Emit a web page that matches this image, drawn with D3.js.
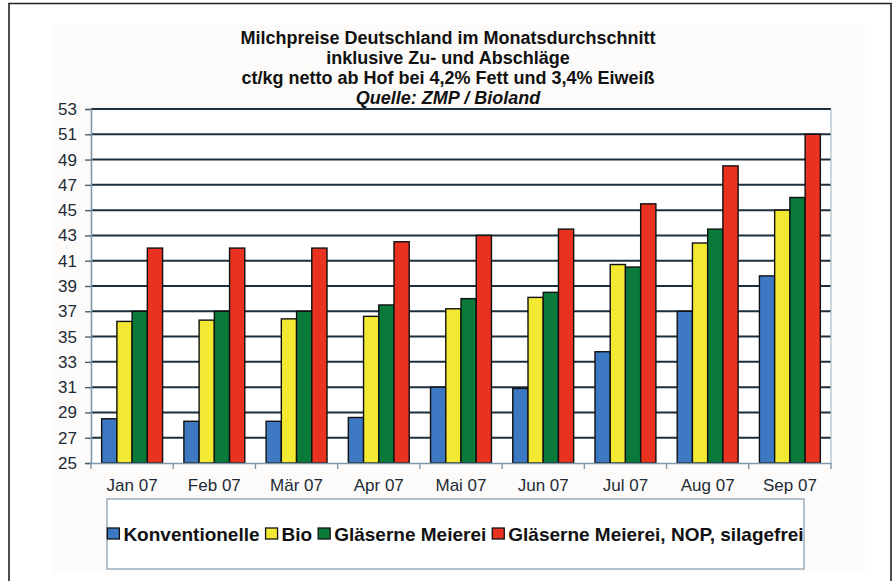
<!DOCTYPE html>
<html>
<head>
<meta charset="utf-8">
<script src="https://cdn.jsdelivr.net/npm/d3@7"></script>
<style>
  body { margin: 0; background: #fff; }
  svg { display: block; font-family: "Liberation Sans", Arial, sans-serif; }
</style>
</head>
<body>
<svg id="chart"></svg>
<script>
const months = ["Jan 07", "Feb 07", "Mär 07", "Apr 07", "Mai 07", "Jun 07", "Jul 07", "Aug 07", "Sep 07"];
const seriesNames = ["Konventionelle", "Bio", "Gläserne Meierei", "Gläserne Meierei, NOP, silagefrei"];
const konventionelle = [28.5, 28.3, 28.3, 28.6, 31.0, 30.9, 33.8, 37.0, 39.8];
const bio = [36.2, 36.3, 36.4, 36.6, 37.2, 38.1, 40.7, 42.4, 45.0];
const glaeserne = [37.0, 37.0, 37.0, 37.5, 38.0, 38.5, 40.5, 43.5, 46.0];
const glaeserneNop = [42.0, 42.0, 42.0, 42.5, 43.0, 43.5, 45.5, 48.5, 51.0];
const yTicks = [25, 27, 29, 31, 33, 35, 37, 39, 41, 43, 45, 47, 49, 51, 53];
const titleLines = [
    "Milchpreise Deutschland im Monatsdurchschnitt",
    "inklusive Zu- und Abschläge",
    "ct/kg netto ab Hof bei 4,2% Fett und 3,4% Eiweiß",
    "Quelle: ZMP / Bioland"
];
const colors = ["#3d78c3", "#f3e832", "#0a7a3b", "#e9321f"];

const seriesValues = [konventionelle, bio, glaeserne, glaeserneNop];

const W = 895, H = 581;
const plot = { left: 91, right: 831, top: 109, bottom: 463 };

const svg = d3.select("#chart").attr("width", W).attr("height", H);

// frame and chart area
svg.append("rect").attr("x", 53).attr("y", 25).attr("width", 812).attr("height", 548).attr("fill", "#fdfbfa");
svg.append("path")
    .attr("d", `M9,${H} V3.5 H891 V${H}`)
    .attr("fill", "none").attr("stroke", "#222").attr("stroke-width", 1.6);

svg.append("rect")
    .attr("x", plot.left).attr("y", plot.top)
    .attr("width", plot.right - plot.left).attr("height", plot.bottom - plot.top)
    .attr("fill", "#fff");

const x = d3.scaleBand()
    .domain(months)
    .range([plot.left, plot.right])
    .paddingInner(0).paddingOuter(0);

const xInner = d3.scaleBand()
    .domain(seriesNames)
    .range([0, x.bandwidth()])
    .paddingInner(0).paddingOuter(0.7);

const y = d3.scaleLinear()
    .domain([25, 53])
    .range([plot.bottom, plot.top]);

// gridlines
svg.append("g")
    .selectAll("line")
    .data(yTicks.filter(d => d > 25))
    .join("line")
    .attr("x1", plot.left).attr("x2", plot.right)
    .attr("y1", d => y(d)).attr("y2", d => y(d))
    .attr("stroke", "#1d2f3b").attr("stroke-width", 2);

// bars
const groups = svg.append("g")
    .selectAll("g")
    .data(months)
    .join("g")
    .attr("transform", d => `translate(${x(d)},0)`);

groups.selectAll("rect")
    .data((m, i) => seriesNames.map((s, j) => ({ s, j, v: seriesValues[j][i] })))
    .join("rect")
    .attr("x", d => xInner(d.s))
    .attr("y", d => y(d.v))
    .attr("width", xInner.bandwidth())
    .attr("height", d => y(25) - y(d.v))
    .attr("fill", d => colors[d.j])
    .attr("stroke", "#111")
    .attr("stroke-width", 1.4);

// plot border (right side light)
svg.append("line")
    .attr("x1", plot.right).attr("x2", plot.right)
    .attr("y1", plot.top).attr("y2", plot.bottom)
    .attr("stroke", "#a9bcc8").attr("stroke-width", 1.2);

// y axis
const yAxis = g => g
    .attr("transform", `translate(${plot.left},0)`)
    .call(d3.axisLeft(y).tickValues(yTicks).tickSize(6).tickPadding(8))
    .call(g => g.select(".domain").attr("stroke", "#7f98aa").attr("stroke-width", 1.6))
    .call(g => g.selectAll(".tick line").attr("stroke", "#4b6474").attr("stroke-width", 1.4))
    .call(g => g.selectAll(".tick text")
        .attr("font-size", 17).attr("fill", "#1c2b36")
        .attr("font-family", "Liberation Sans, Arial, sans-serif"));

svg.append("g").call(yAxis);

// x axis
const xAxis = g => g
    .attr("transform", `translate(0,${plot.bottom})`)
    .call(d3.axisBottom(x).tickSize(0).tickPadding(16))
    .call(g => g.select(".domain").attr("stroke", "#7f98aa").attr("stroke-width", 1.6))
    .call(g => g.selectAll(".tick text")
        .attr("font-size", 17).attr("fill", "#1c2b36")
        .attr("font-family", "Liberation Sans, Arial, sans-serif"));

svg.append("g").call(xAxis);

// x tick marks at group boundaries
svg.append("g")
    .selectAll("line")
    .data(months.concat(["end"]))
    .join("line")
    .attr("x1", (d, i) => i < months.length ? x(d) : plot.right)
    .attr("x2", (d, i) => i < months.length ? x(d) : plot.right)
    .attr("y1", plot.bottom).attr("y2", plot.bottom + 6)
    .attr("stroke", "#7f98aa").attr("stroke-width", 1.4);

// title
svg.append("g")
    .selectAll("text")
    .data(titleLines)
    .join("text")
    .attr("x", 448)
    .attr("y", (d, i) => 44 + i * 20)
    .attr("text-anchor", "middle")
    .attr("font-size", 18)
    .attr("font-weight", "bold")
    .attr("font-style", (d, i) => i === 3 ? "italic" : "normal")
    .attr("fill", "#111")
    .text(d => d);

// legend
const legendBox = { x: 107, y: 499, w: 697, h: 70 };
svg.append("rect")
    .attr("x", legendBox.x).attr("y", legendBox.y)
    .attr("width", legendBox.w).attr("height", legendBox.h)
    .attr("fill", "#fff").attr("stroke", "#95a8b5").attr("stroke-width", 1.4);

const legend = svg.append("g");
const legendY = legendBox.y + 35;
let cursor = 0;
seriesNames.forEach((name, i) => {
    const item = legend.append("g").attr("transform", `translate(${cursor},0)`);
    item.append("rect")
        .attr("x", 0).attr("y", legendY - 6)
        .attr("width", 12).attr("height", 11)
        .attr("fill", colors[i]).attr("stroke", "#111").attr("stroke-width", 1.3);
    const t = item.append("text")
        .attr("x", 16).attr("y", legendY)
        .attr("dy", "0.35em")
        .attr("font-size", 19).attr("font-weight", "bold").attr("fill", "#111")
        .text(name);
    cursor += 16 + t.node().getComputedTextLength() + 6;
});
cursor -= 6;
legend.attr("transform", `translate(${legendBox.x + (legendBox.w - cursor) / 2},0)`);
</script>
</body>
</html>
